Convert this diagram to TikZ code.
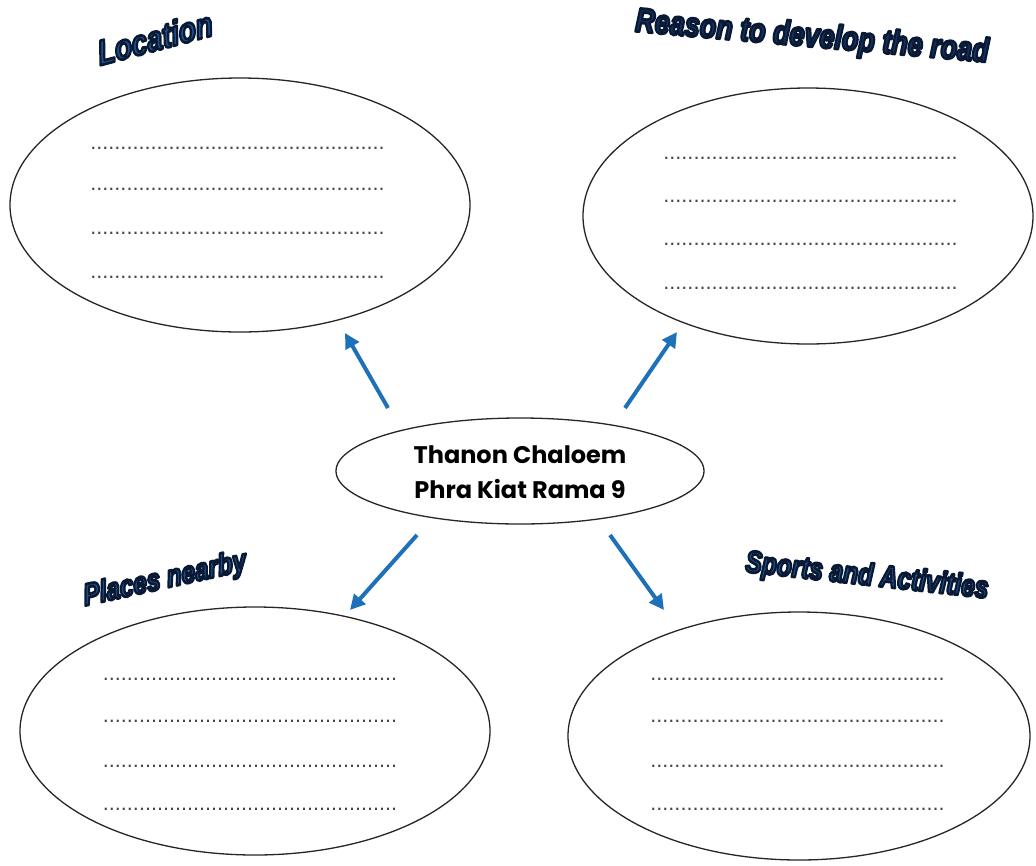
\documentclass[tikz,border=0pt]{standalone}
\usepackage{fontspec}
\setmainfont{Liberation Sans}
\newfontfamily\centfont{Poppins}
\newfontfamily\ttlfont{Liberation Sans}
\usetikzlibrary{arrows.meta,shapes.geometric}
\definecolor{ttlblue}{RGB}{30,82,145}
\definecolor{ttlnavy}{RGB}{20,50,95}
\definecolor{arrowblue}{RGB}{30,112,185}
\definecolor{dotgray}{RGB}{70,70,70}
\newcommand\heavytext[1]{\special{pdf:literal direct 2 Tr 2.2 w 0.04 0.1 0.2 RG 1 j}#1\special{pdf:literal direct 0 Tr}}
\begin{document}
\begin{tikzpicture}[x=1pt,y=-1pt,
  bubble/.style={draw=black!85, line width=1.3pt, ellipse, inner sep=0pt},
  dotrow/.style={anchor=base, inner sep=0pt, text=dotgray, font=\fontsize{21.6}{22}\selectfont},
  ttl/.style={inner sep=0pt, text=ttlblue, yscale=1.25, font=\ttlfont\bfseries\itshape\fontsize{28}{30}\selectfont},
  arr/.style={draw=arrowblue, line width=4pt, -{Triangle[length=15pt,width=15pt]}},
  ctext/.style={align=center, font=\centfont\bfseries\fontsize{24}{35}\selectfont, inner sep=0pt}
]
\useasboundingbox (0,0) rectangle (1036,865);
\fill[white] (0,0) rectangle (1036,865);

% ellipses
\node[bubble, minimum width=460pt, minimum height=254pt] (loc) at (240,205) {};
\node[bubble, minimum width=450pt, minimum height=256pt] (rsn) at (808,216) {};
\node[bubble, minimum width=368pt, minimum height=106pt] (ctr) at (520,471) {};
\node[bubble, minimum width=470pt, minimum height=248pt] (plc) at (255,731) {};
\node[bubble, minimum width=462pt, minimum height=248pt] (spt) at (799,736) {};

% center text
\node[ctext] (ctrtext) at (520,472) {Thanon Chaloem\\Phra Kiat Rama 9};

% dotted writing lines
\foreach \i/\yy in {1/149,2/190,3/234,4/278}{
  \node[dotrow] (loc\i) at (237.5,\yy) {.................................................};
}
\foreach \i/\yy in {1/159,2/202,3/245,4/289}{
  \node[dotrow] (rsn\i) at (810.5,\yy) {.................................................};
}
\foreach \i/\yy in {1/680,2/722,3/767,4/810}{
  \node[dotrow] (plc\i) at (250,\yy) {.................................................};
}
\foreach \i/\yy in {1/680,2/722,3/767,4/810}{
  \node[dotrow] (spt\i) at (797.5,\yy) {.................................................};
}

% titles
\node[ttl, rotate=12] (loct) at (155,38) {\heavytext{Location}};
\node[ttl, rotate=-4, text=ttlnavy, font=\ttlfont\bfseries\itshape\fontsize{27}{30}\selectfont] (rsnt) at (812,38) {\heavytext{Reason to develop the road}};
\node[ttl, rotate=10, font=\ttlfont\bfseries\itshape\fontsize{24.5}{30}\selectfont] (plct) at (165,580) {\heavytext{Places nearby}};
\node[ttl, rotate=-5, font=\ttlfont\bfseries\itshape\fontsize{24.5}{30}\selectfont] (sptt) at (867,577) {\heavytext{Sports and Activities}};

% arrows
\coordinate (a1s) at (388,408); \coordinate (a1e) at (345,333);
\coordinate (a2s) at (625,408); \coordinate (a2e) at (677,332);
\coordinate (a3s) at (417,535); \coordinate (a3e) at (350,610);
\coordinate (a4s) at (610,535); \coordinate (a4e) at (664,610);
\draw[arr] (a1s) -- (a1e);
\draw[arr] (a2s) -- (a2e);
\draw[arr] (a3s) -- (a3e);
\draw[arr] (a4s) -- (a4e);
\end{tikzpicture}
\end{document}
